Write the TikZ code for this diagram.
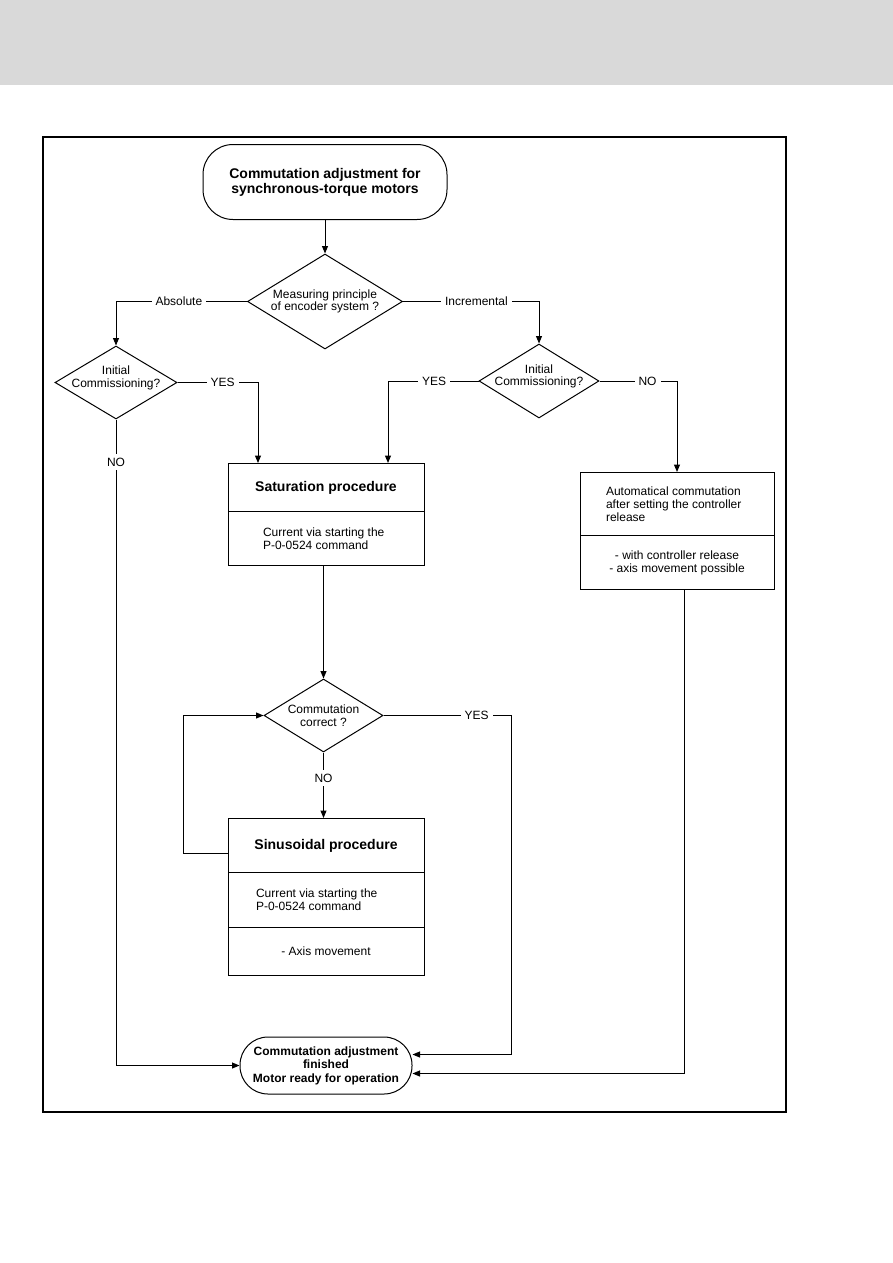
\documentclass[tikz,border=0pt]{standalone}
\usepackage{fontspec}
\setmainfont{Liberation Sans}
\usepackage{tikz}
\usetikzlibrary{positioning,arrows.meta,shapes.geometric,shapes.multipart}
\definecolor{headgray}{RGB}{217,217,217}
\tikzset{
  term/.style  = {draw, line width=1pt, rounded corners=28pt, align=center, inner sep=0pt, font=\fontsize{12}{13.5}\selectfont\bfseries},
  dia/.style   = {draw, line width=1pt, diamond, aspect=1.65, inner sep=-8pt, align=center, font=\fontsize{12}{12.5}\selectfont},
  proc/.style  = {draw, line width=1pt, rectangle split, inner sep=0pt, anchor=north, font=\fontsize{12}{13}\selectfont},
  flow/.style  = {-{Triangle[length=7.5pt,width=6pt]}, line width=1pt},
  lbl/.style   = {fill=white, inner sep=4pt, font=\fontsize{12}{13}\selectfont},
}
\newcommand{\ctrpart}[3]{\parbox[c][#2][c]{#1}{\fontsize{12}{13}\selectfont\centering #3}}
\newcommand{\leftpart}[4]{\parbox[c][#2][c]{#1}{\fontsize{12}{13}\selectfont\raggedright\leftskip=#3\relax #4}}
\newcommand{\ptitle}[1]{{\fontsize{14}{15}\selectfont\bfseries #1}}

\begin{document}
\begin{tikzpicture}[x=1pt, y=-1pt]
  \useasboundingbox (0,0) rectangle (893,1263);
  \fill[headgray] (0,0) rectangle (893,85);
  \draw[line width=1.6pt] (43,137) rectangle (786,1112);

  % start and decisions
  \node[term, rounded corners=30pt, minimum width=244pt, minimum height=75pt,
        font=\fontsize{14}{15}\selectfont\bfseries] (start) at (325,182)
        {Commutation adjustment for\\synchronous-torque motors};
  \node[dia, minimum width=155pt, minimum height=95pt] (enc) at (325,301.5)
        {Measuring principle\\of encoder system ?};
  \node[dia, minimum width=122pt, minimum height=73pt, text depth=12pt] (absinit) at (116,382.5)
        {Initial\\Commissioning?};
  \node[dia, minimum width=120pt, minimum height=74pt, text depth=12pt] (incinit) at (539,381)
        {Initial\\Commissioning?};

  % procedures
  \node[proc, rectangle split parts=2] (sat) at (326,463)
        {\ctrpart{196pt}{47pt}{\ptitle{Saturation procedure}}
         \nodepart{two}\leftpart{196pt}{53pt}{35pt}{Current via starting the\\P-0-0524 command}};
  \node[proc, rectangle split parts=2] (auto) at (677,472)
        {\leftpart{194pt}{62pt}{26pt}{Automatical commutation\\after setting the controller\\release}
         \nodepart{two}\ctrpart{194pt}{53pt}{- with controller release\\- axis movement possible}};
  \node[dia, minimum width=119pt, minimum height=73pt] (chk) at (323.5,715.5)
        {Commutation\\correct ?};
  \node[proc, rectangle split parts=3] (sin) at (326,818)
        {\ctrpart{196pt}{53pt}{\ptitle{Sinusoidal procedure}}
         \nodepart{two}\leftpart{196pt}{54pt}{28pt}{Current via starting the\\P-0-0524 command}
         \nodepart{three}\ctrpart{196pt}{47pt}{- Axis movement}};
  \node[term, minimum width=172pt, minimum height=57pt] (fin) at (326,1065.5)
        {Commutation adjustment\\finished\\Motor ready for operation};

  \coordinate (yesbend) at (511,715.5);
  \coordinate (loopbend) at (183,853);

  % connectors
  \draw[flow] (start.south) -- (enc.north);
  \draw[flow] (enc.west) -| node[lbl, pos=0.26] {Absolute} (absinit.north);
  \draw[flow] (enc.east) -| node[lbl, pos=0.27] {Incremental} (incinit.north);
  \draw[flow] (absinit.east) -| node[lbl, pos=0.28] {YES} ([xshift=-68pt]sat.north);
  \draw[flow] (incinit.west) -| node[lbl, pos=0.245] {YES} ([xshift=62pt]sat.north);
  \draw[flow] (incinit.east) -| node[lbl, pos=0.31] {NO} (auto.north);
  \draw[flow] (absinit.south) |- node[lbl, pos=0.033] {NO} (fin.west);
  \draw[flow] (sat.south -| chk.north) -- (chk.north);
  \draw[flow] (chk.south) -- node[lbl, pos=0.39] {NO} (sin.north -| chk.south);
  \draw[flow] (chk.east) -- node[lbl, pos=0.73] {YES} (yesbend) |- ([yshift=11pt]fin.east);
  \draw[flow] (loopbend -| sin.west) -- (loopbend) |- (chk.west);
  \draw[flow] ([xshift=7pt]auto.south) |- ([yshift=-8pt]fin.east);
\end{tikzpicture}
\end{document}
